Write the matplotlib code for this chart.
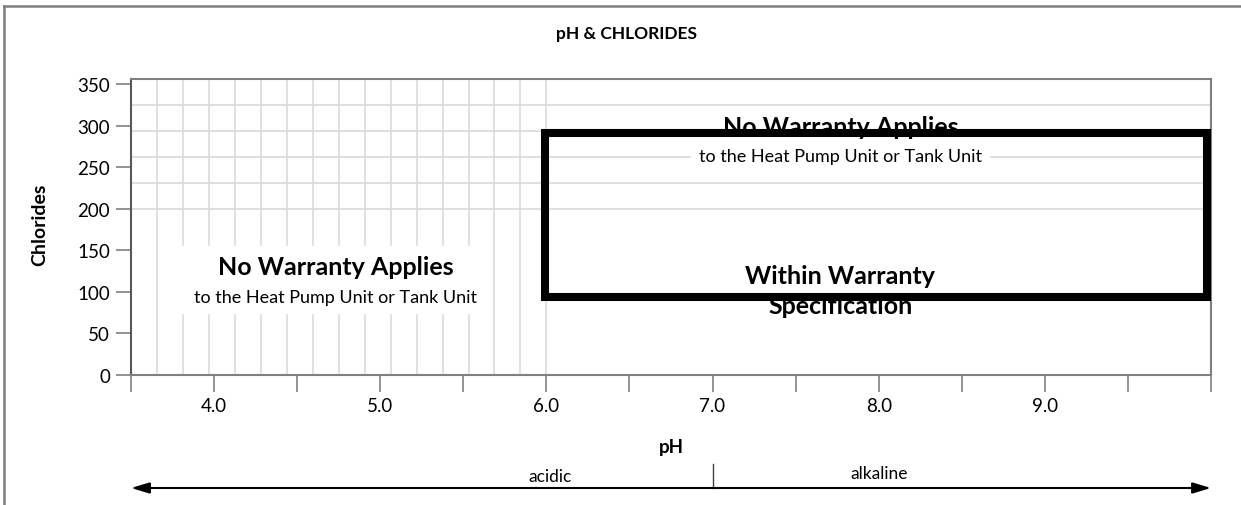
import matplotlib.pyplot as plt
import matplotlib.transforms as mtransforms
from matplotlib.lines import Line2D
from matplotlib.patches import Rectangle
import numpy as np

plt.rcParams['font.family'] = ['Lato', 'DejaVu Sans']

# axis scales
ph_ticks = [3.5, 4.0, 4.5, 5.0, 5.5, 6.0, 6.5, 7.0, 7.5, 8.0, 8.5, 9.0, 9.5, 10.0]
ph_labels = ['', '4.0', '', '5.0', '', '6.0', '', '7.0', '', '8.0', '', '9.0', '', '']
chloride_ticks = [0, 50, 100, 150, 200, 250, 300, 350]
ph_range = [3.5, 10.0]
chloride_range = [0, 356]

# warranty zones
within_ph = [5.99, 9.975]
within_cl = [94, 291]
acid_split = 7.0

# zone labels: (text, pH, chlorides, size, bold)
zone_labels = [
    ('No Warranty Applies', 4.73, 131, 18, True),
    ('to the Heat Pump Unit or Tank Unit', 4.73, 94, 13, False),
    ('No Warranty Applies', 7.77, 299, 18, True),
    ('Within Warranty', 7.77, 120, 18, True),
    ('Specification', 7.77, 83, 18, True),
]

fig = plt.figure(figsize=(12.41, 5.06), dpi=100)
ax = fig.add_axes([0.10556, 0.25692, 0.87027, 0.58498])
ax.set_xlim(ph_range)
ax.set_ylim(chloride_range)

# light background grid (square cells)
grid_step = 0.15625
for x in np.arange(ph_range[0] + grid_step, 6.0 + 0.01, grid_step):
    ax.axvline(x, color='#dadada', lw=1.2, zorder=1)
for k in range(1, 6):
    ax.axhline(chloride_range[1] - 31.25 * k, color='#dadada', lw=1.2, zorder=1)

# white panel behind the acidic-zone label
ax.add_patch(Rectangle((3.77, 73), 1.83, 82, fc='white', ec='none', zorder=2))

for text, x, y, size, bold in zone_labels:
    ax.text(x, y, text, ha='center', va='center', fontsize=size,
            fontweight='bold' if bold else 'normal', color='black', zorder=3)

ax.text(7.77, 263, 'to the Heat Pump Unit or Tank Unit', ha='center', va='center',
        fontsize=13, color='black', zorder=3,
        bbox=dict(fc='white', ec='none', pad=6))

ax.add_patch(Rectangle((within_ph[0], within_cl[0]), within_ph[1] - within_ph[0],
                       within_cl[1] - within_cl[0], fill=False, ec='black',
                       lw=5.8, joinstyle='miter', zorder=5))

ax.set_xticks(ph_ticks)
ax.set_xticklabels(ph_labels)
ax.set_yticks(chloride_ticks)
ax.tick_params(axis='x', direction='out', length=12, width=1.2, color='#808080',
               pad=4, labelsize=13.5, labelcolor='black')
ax.tick_params(axis='y', direction='out', length=11, width=1.2, color='#808080',
               pad=4, labelsize=13.5, labelcolor='black')
for side in ['top', 'right', 'bottom']:
    ax.spines[side].set_color('#808080')
    ax.spines[side].set_linewidth(1.5)
ax.spines['left'].set_color('#595959')
ax.spines['left'].set_linewidth(1.5)

fig.text(0.505, 0.933, 'pH & CHLORIDES', ha='center', va='center',
         fontsize=12.5, fontweight='bold')
fig.text(0.032, 0.555, 'Chlorides', ha='center', va='center', rotation=90,
         fontsize=14, fontweight='bold')
ax.set_xlabel('pH', fontsize=13.5, fontweight='bold', labelpad=17)

# acidic / alkaline arrow under the axis
trans = mtransforms.blended_transform_factory(ax.transData, fig.transFigure)
ax.annotate('', xy=(ph_range[1], 0.0336), xytext=(ph_range[0], 0.0336),
            xycoords=trans, textcoords=trans, annotation_clip=False,
            arrowprops=dict(arrowstyle='<|-|>,head_length=1.1,head_width=0.33',
                            mutation_scale=10, lw=1.5, color='black',
                            shrinkA=0, shrinkB=0))
ax.plot([acid_split, acid_split], [0.0336, 0.081], transform=trans,
        color='#404040', lw=1, clip_on=False)
ax.text(6.02, 0.057, 'acidic', transform=trans, ha='center', va='center', fontsize=12.5)
ax.text(8.0, 0.063, 'alkaline', transform=trans, ha='center', va='center', fontsize=12.5)

# outer chart frame (left and top edges)
fig.add_artist(Line2D([0.003, 0.003], [0, 0.986], transform=fig.transFigure,
                      color='#7f7f7f', lw=1.8))
fig.add_artist(Line2D([0.003, 1.0], [0.986, 0.986], transform=fig.transFigure,
                      color='#7f7f7f', lw=1.8))

fig.savefig('out.png', dpi=100)
